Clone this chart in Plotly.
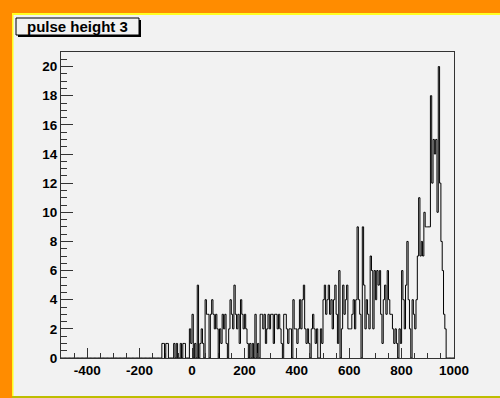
import plotly.graph_objects as go

# Histogram definition: 300 bins of width 5 from -500 to 1000
bin_start = -500
bin_width = 5
counts = (
    [0] * 20 +                                                        # -500 .. -405
    [0] * 20 +                                                        # -400 .. -305
    [0] * 20 +                                                        # -300 .. -205
    [0] * 17 + [1, 1, 0] +                                            # -200 .. -105
    [1, 1, 0, 0, 0, 0, 1, 0, 1, 0, 0, 1, 0, 1, 1, 0, 0, 0, 2, 1] +    # -100 .. -5
    [3, 0, 1, 0, 5, 0, 1, 2, 1, 0, 4, 3, 3, 0, 3, 4, 3, 2, 3, 2] +    # 0 .. 95
    [0, 2, 1, 3, 2, 3, 1, 0, 2, 4, 3, 2, 5, 3, 2, 3, 1, 4, 3, 2] +    # 100 .. 195
    [3, 2, 1, 0, 1, 0, 1, 0, 3, 0, 1, 0, 3, 3, 2, 3, 1, 2, 3, 2] +    # 200 .. 295
    [3, 3, 1, 3, 3, 2, 3, 2, 1, 0, 3, 3, 2, 1, 2, 2, 0, 4, 2, 2] +    # 300 .. 395
    [1, 2, 4, 2, 4, 5, 2, 1, 2, 1, 0, 2, 3, 2, 1, 2, 0, 0, 2, 1] +    # 400 .. 495
    [4, 5, 3, 4, 5, 3, 4, 2, 4, 5, 3, 1, 6, 0, 2, 5, 3, 4, 5, 2] +    # 500 .. 595
    [2, 2, 3, 4, 2, 4, 9, 4, 3, 0, 9, 5, 2, 4, 3, 2, 7, 6, 2, 6] +    # 600 .. 695
    [4, 6, 5, 6, 3, 1, 4, 5, 3, 6, 4, 3, 3, 2, 1, 2, 1, 0, 2, 1] +    # 700 .. 795
    [6, 4, 2, 5, 8, 4, 2, 0, 4, 3, 2, 4, 7, 11, 7, 8, 7, 10, 9, 9] +  # 800 .. 895
    [9, 9, 18, 12, 15, 14, 15, 10, 20, 12, 8, 6, 3, 2, 0, 0, 0, 0, 0, 0]  # 900 .. 995
)
title_text = "pulse height 3"
x_ticks = [-400, -200, 0, 200, 400, 600, 800, 1000]
x_tick_labels = ["-400", "-200", "0", "200", "400", "600", "800", "1000"]
y_ticks = [0, 2, 4, 6, 8, 10, 12, 14, 16, 18, 20]

# Step outline through the bin edges
edges = [bin_start + i * bin_width for i in range(len(counts) + 1)]
step_y = counts + [0]

W, H = 500, 398
ML, MR, MT, MB = 61, 46, 52, 40
PW, PH = W - ML - MR, H - MT - MB


def px(x):
    return (x - ML) / PW


def py(y):
    return (H - MB - y) / PH


BG = "#f2f2f2"
ORANGE = "#ff8c00"

fig = go.Figure()
fig.add_trace(go.Scatter(
    x=edges, y=step_y, mode="lines", line_shape="hv",
    line=dict(color="black", width=1), hoverinfo="skip", showlegend=False,
))

tick_font = dict(family="Liberation Sans", size=13.5, color="black", weight="bold")
axis_common = dict(
    showgrid=False, zeroline=False, showline=True, mirror=True,
    linecolor="#333333", linewidth=1, ticks="inside", tickcolor="#333333",
    tickfont=tick_font,
)

fig.update_xaxes(
    range=[-500, 1000], tickvals=x_ticks, ticktext=x_tick_labels, ticklen=10,
    minor=dict(ticks="inside", ticklen=5, dtick=50, tick0=0, tickcolor="#333333"),
    **axis_common,
)
fig.update_yaxes(
    range=[0, 21], tickvals=y_ticks, ticklen=12,
    minor=dict(ticks="inside", ticklen=6, dtick=0.5, tick0=0, tickcolor="#333333"),
    **axis_common,
)


def rect(x0, x1, y0, y1, **kw):
    return dict(type="rect", xref="paper", yref="paper",
                x0=px(x0), x1=px(x1), y0=py(y1), y1=py(y0), layer="above", **kw)


shapes = [
    # orange frame on the left and top, with its yellow inner rim
    rect(0, 12, 0, H, fillcolor=ORANGE, line=dict(width=0)),
    rect(0, W, 0, 13, fillcolor=ORANGE, line=dict(width=0)),
    rect(12, 13.5, 13, H, fillcolor="#ffff22", line=dict(width=0)),
    rect(12, W, 13, 15, fillcolor="#ffff22", line=dict(width=0)),
    # bottom rim
    rect(12, W, 396, H, fillcolor="#bebe00", line=dict(width=0)),
    # title box shadow and box
    rect(18, 141, 20, 37, fillcolor="black", line=dict(width=0)),
    rect(16, 139, 18, 35, fillcolor=BG, line=dict(color="black", width=1)),
]

fig.update_layout(
    width=W, height=H,
    margin=dict(l=ML, r=MR, t=MT, b=MB),
    paper_bgcolor=BG, plot_bgcolor=BG,
    shapes=shapes,
    annotations=[dict(
        text=title_text, xref="paper", yref="paper",
        x=px(77.5), y=py(26.5), xanchor="center", yanchor="middle",
        showarrow=False,
        font=dict(family="Liberation Sans", size=15, color="black", weight="bold"),
    )],
)

fig.write_html("out.html")
